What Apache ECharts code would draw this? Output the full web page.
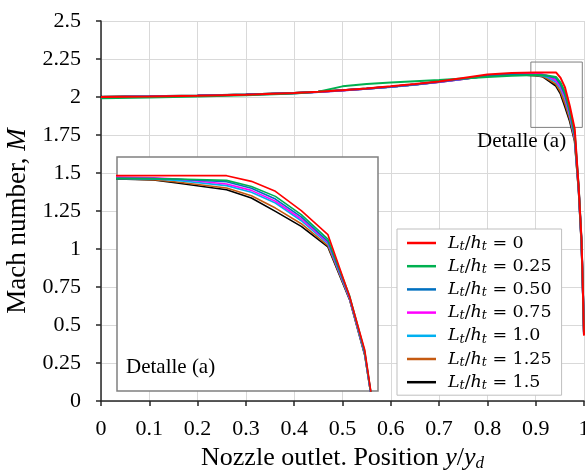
<!DOCTYPE html>
<html>
<head>
<meta charset="utf-8">
<script src="https://cdn.jsdelivr.net/npm/echarts@6/dist/echarts.min.js"></script>
<style>html,body{margin:0;padding:0;background:#fff}#c{width:585px;height:476px}</style>
</head>
<body>
<div id="c"></div>
<script>
// Position along nozzle outlet y/yd
const xPos = [0, 0.1, 0.2, 0.3, 0.4, 0.45, 0.5, 0.55, 0.6, 0.65, 0.7, 0.75, 0.8, 0.85, 0.9, 0.914, 0.923, 0.942, 0.9515, 0.9607, 0.9706, 0.9808, 0.9891, 0.9949, 0.9972, 1.0];
// Mach number for each Lt/ht
const mach_0    = [2.000, 2.003, 2.008, 2.015, 2.026, 2.034, 2.045, 2.056, 2.070, 2.085, 2.102, 2.125, 2.148, 2.158, 2.162, 2.162, 2.162, 2.162, 2.126, 2.063, 1.941, 1.789, 1.399, 1.061, 0.804, 0.43];
const mach_025  = [1.992, 1.996, 2.003, 2.012, 2.023, 2.035, 2.070, 2.085, 2.095, 2.104, 2.112, 2.122, 2.132, 2.140, 2.145, 2.143, 2.141, 2.132, 2.094, 2.031, 1.915, 1.761, 1.403, 1.051, 0.800, 0.44];
const mach_050  = [2.000, 2.004, 2.009, 2.016, 2.026, 2.034, 2.044, 2.055, 2.068, 2.083, 2.100, 2.120, 2.140, 2.148, 2.145, 2.143, 2.139, 2.124, 2.082, 2.014, 1.901, 1.747, 1.395, 1.045, 0.796, 0.44];
const mach_075  = [1.999, 2.003, 2.008, 2.015, 2.025, 2.033, 2.043, 2.054, 2.067, 2.082, 2.099, 2.119, 2.140, 2.150, 2.153, 2.149, 2.141, 2.109, 2.069, 2.000, 1.888, 1.740, 1.390, 1.040, 0.792, 0.44];
const mach_100  = [1.999, 2.003, 2.008, 2.015, 2.025, 2.033, 2.043, 2.054, 2.066, 2.081, 2.098, 2.118, 2.139, 2.148, 2.145, 2.141, 2.132, 2.099, 2.057, 1.989, 1.877, 1.732, 1.386, 1.036, 0.789, 0.44];
const mach_125  = [2.000, 2.004, 2.009, 2.016, 2.026, 2.034, 2.044, 2.055, 2.067, 2.082, 2.099, 2.119, 2.140, 2.148, 2.143, 2.137, 2.122, 2.084, 2.035, 1.957, 1.858, 1.719, 1.382, 1.032, 0.787, 0.45];
const mach_150  = [2.001, 2.005, 2.010, 2.017, 2.027, 2.035, 2.045, 2.056, 2.068, 2.083, 2.100, 2.120, 2.141, 2.149, 2.141, 2.135, 2.116, 2.073, 2.021, 1.936, 1.841, 1.711, 1.378, 1.028, 0.785, 0.45];

const seriesNames = ['0', '0.25', '0.50', '0.75', '1.0', '1.25', '1.5'];
const seriesValues = [mach_0, mach_025, mach_050, mach_075, mach_100, mach_125, mach_150];
const seriesColors = ['#ff0000', '#00b050', '#0070c0', '#ff00ff', '#00b0f0', '#c55a11', '#000000'];

const xTickLabels = ['0', '0.1', '0.2', '0.3', '0.4', '0.5', '0.6', '0.7', '0.8', '0.9', '1'];
const yTickLabels = ['0', '0.25', '0.5', '0.75', '1', '1.25', '1.5', '1.75', '2', '2.25', '2.5'];

// Detail box (a) extent in data units, and inset view range
const detailBox = {x0: 0.89, x1: 0.9965, y0: 1.80, y1: 2.23};
const insetRange = {xMin: 0.9, xMax: 1.0, yMin: 0.8, yMax: 2.28};

const SERIF = 'Liberation Serif';
const chart = echarts.init(document.getElementById('c'), null, {renderer: 'canvas'});

function pairs(vals) { return xPos.map((x, i) => [x, vals[i]]); }

const series = [];
// draw in reverse so red ends on top
for (let k = seriesNames.length - 1; k >= 0; k--) {
  const s = {
    name: seriesNames[k], type: 'line', data: pairs(seriesValues[k]),
    xAxisIndex: 0, yAxisIndex: 0, showSymbol: false, symbol: 'none',
    lineStyle: {color: seriesColors[k], width: 2}, itemStyle: {color: seriesColors[k]},
    z: 2, animation: false, silent: true
  };
  if (k === 0) {
    s.markArea = {
      silent: true,
      itemStyle: {color: 'rgba(0,0,0,0)', borderColor: '#7f7f7f', borderWidth: 1},
      data: [[{xAxis: detailBox.x0, yAxis: detailBox.y0}, {xAxis: detailBox.x1, yAxis: detailBox.y1}]]
    };
  }
  series.push(s);
}
for (let k = seriesNames.length - 1; k >= 0; k--) {
  series.push({
    name: seriesNames[k], type: 'line', data: pairs(seriesValues[k]),
    xAxisIndex: 1, yAxisIndex: 1, showSymbol: false, symbol: 'none',
    lineStyle: {color: seriesColors[k], width: 1.6}, itemStyle: {color: seriesColors[k]},
    z: 5, animation: false, silent: true, clip: true
  });
}

const legendRich = {
  i: {fontFamily: 'DejaVu Serif', fontStyle: 'italic', fontSize: 17.5, lineHeight: 20, color: '#000'},
  s: {fontFamily: 'DejaVu Serif', fontStyle: 'italic', fontSize: 12.5, lineHeight: 13, color: '#000', padding: [7, 0, 0, 0]},
  n: {fontFamily: 'DejaVu Serif', fontSize: 17.5, lineHeight: 20, color: '#000'}
};

const option = {
  backgroundColor: '#fff',
  animation: false,
  grid: [
    {left: 101, right: 1, top: 21, bottom: 75, containLabel: false, outerBoundsMode: 'none'},
    {left: 117, top: 157, width: 261, height: 234, show: true, backgroundColor: '#fff',
     borderColor: '#808080', borderWidth: 1.5, z: 3, outerBoundsMode: 'none'}
  ],
  xAxis: [
    {type: 'value', gridIndex: 0, min: 0, max: 1, interval: 0.1,
     axisLine: {show: true, onZero: false, lineStyle: {color: '#262626', width: 1.5}},
     axisTick: {show: true, length: 5, lineStyle: {color: '#262626', width: 1.5}},
     axisLabel: {margin: 17, fontFamily: SERIF, fontSize: 22, color: '#000',
       formatter: (v) => xTickLabels[Math.round(v * 10)]},
     splitLine: {show: true, lineStyle: {color: '#d9d9d9', width: 1}},
     name: '{n|Nozzle outlet. Position }{i|y}{n|/}{i|y}{s|d}',
     nameLocation: 'middle', nameGap: 42,
     nameTextStyle: {rich: {
       n: {fontFamily: SERIF, fontSize: 26, color: '#000'},
       i: {fontFamily: SERIF, fontStyle: 'italic', fontSize: 26, color: '#000'},
       s: {fontFamily: SERIF, fontStyle: 'italic', fontSize: 17, color: '#000', padding: [11, 0, 0, 0]}
     }}},
    {type: 'value', gridIndex: 1, min: insetRange.xMin, max: insetRange.xMax, show: false,
     splitLine: {show: false}}
  ],
  yAxis: [
    {type: 'value', gridIndex: 0, min: 0, max: 2.5, interval: 0.25,
     axisLine: {show: true, onZero: false, lineStyle: {color: '#262626', width: 1.5}},
     axisTick: {show: true, length: 5, lineStyle: {color: '#262626', width: 1.5}},
     axisLabel: {margin: 20, fontFamily: SERIF, fontSize: 22, color: '#000',
       formatter: (v) => yTickLabels[Math.round(v * 4)]},
     splitLine: {show: true, lineStyle: {color: '#d9d9d9', width: 1}},
     name: '{n|Mach number, }{i|M}',
     nameLocation: 'middle', nameGap: 65,
     nameTextStyle: {padding: [0, 20, 0, 0], rich: {
       n: {fontFamily: SERIF, fontSize: 27, color: '#000'},
       i: {fontFamily: SERIF, fontStyle: 'italic', fontSize: 27, color: '#000'}
     }}},
    {type: 'value', gridIndex: 1, min: insetRange.yMin, max: insetRange.yMax, show: false,
     splitLine: {show: false}}
  ],
  legend: {
    data: seriesNames,
    orient: 'vertical', left: 397, top: 229,
    backgroundColor: '#fff', borderColor: '#bfbfbf', borderWidth: 1,
    padding: [4, 10, 3, 10],
    icon: 'rect',
    itemWidth: 29, itemHeight: 2.5, itemGap: 3.2,
    selectedMode: false,
    formatter: (name) => '{i|L}{s|t}{n|/}{i|h}{s|t}{n| = ' + name + '}',
    textStyle: {padding: [0, 0, 0, 7], rich: legendRich}
  },
  graphic: [
    {type: 'text', left: 477, top: 131, z: 10,
     style: {text: 'Detalle (a)', fontFamily: SERIF, fontSize: 21, fill: '#000'}},
    {type: 'text', left: 126, top: 357, z: 10,
     style: {text: 'Detalle (a)', fontFamily: SERIF, fontSize: 21, fill: '#000'}}
  ],
  series: series
};
chart.setOption(option);
</script>
</body>
</html>
